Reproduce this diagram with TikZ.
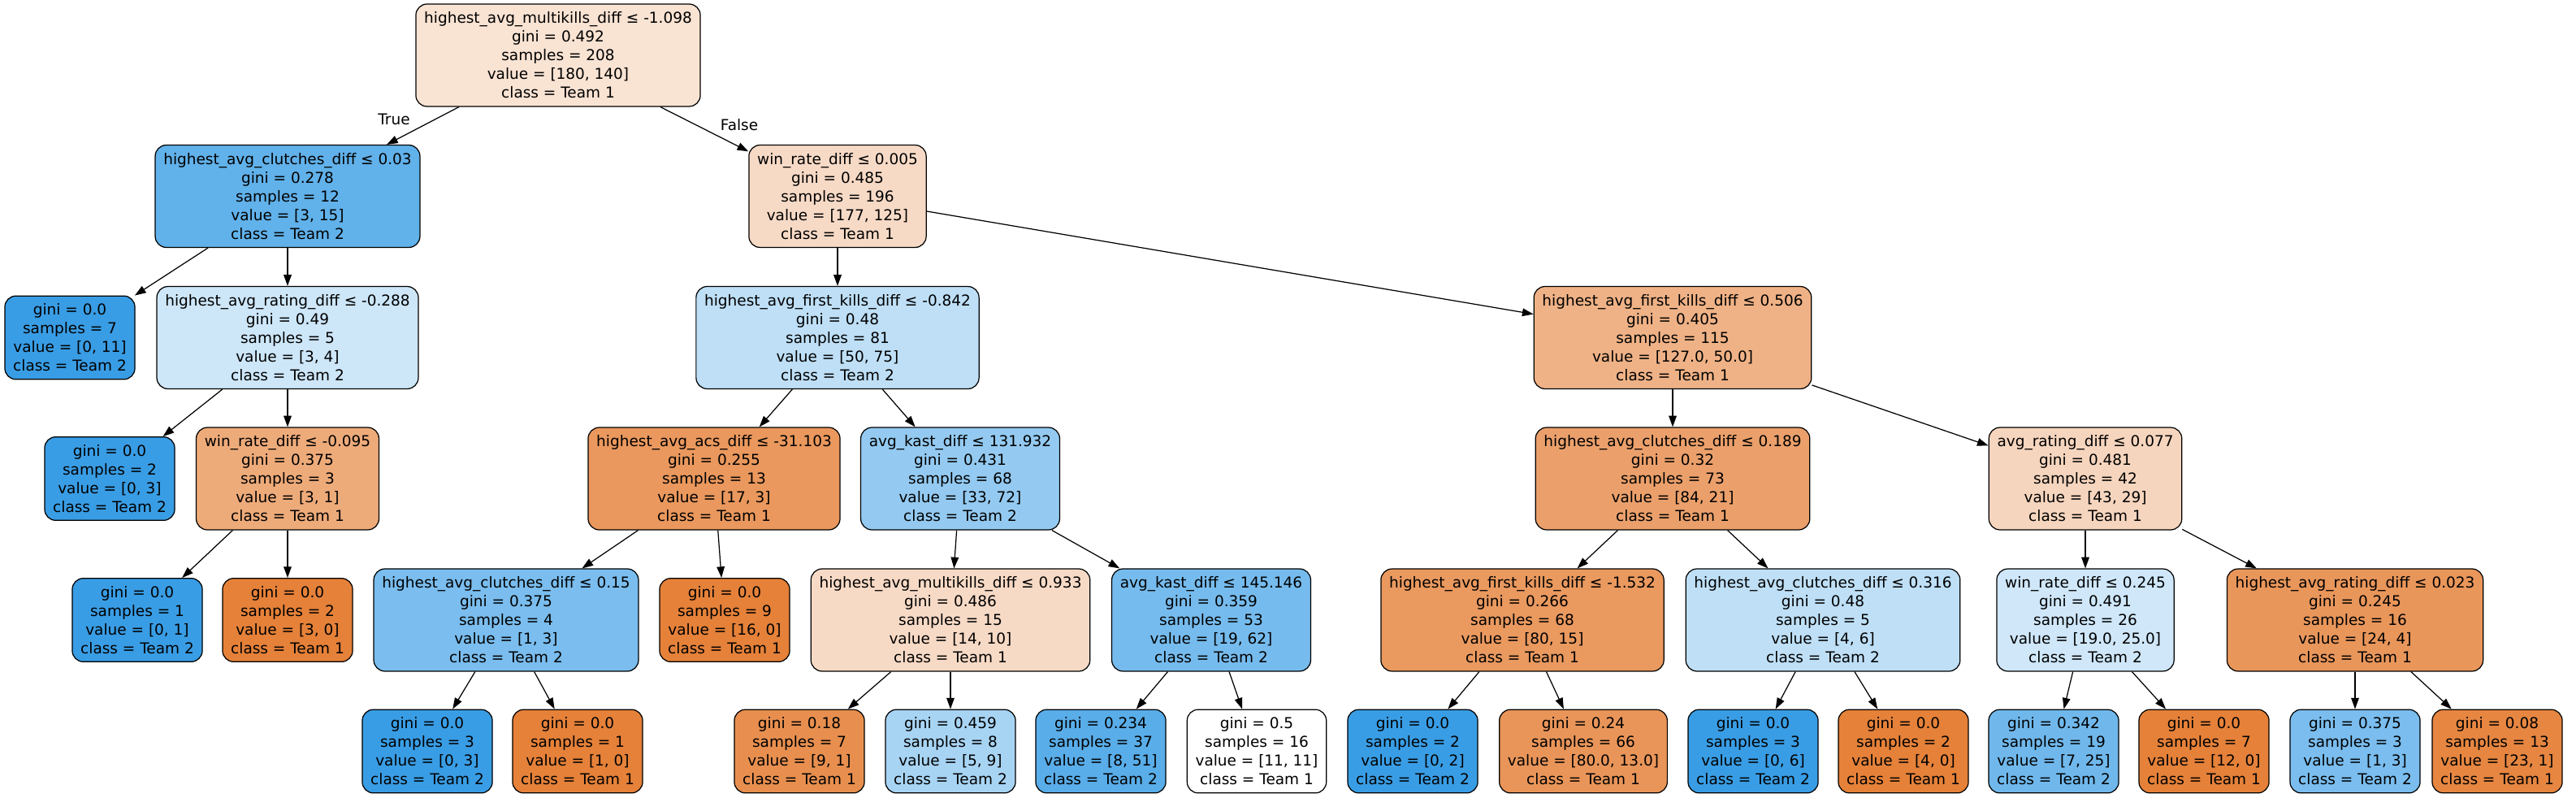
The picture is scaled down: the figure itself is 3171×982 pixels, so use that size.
\documentclass[tikz,border=0pt]{standalone}
\usepackage{fontspec}
\setmainfont{DejaVu Sans}
\usepackage{tikz}
\usetikzlibrary{arrows.meta}

\definecolor{teamone}{RGB}{229,129,57}
\definecolor{teamtwo}{RGB}{57,157,229}

\begin{document}
\begin{tikzpicture}[x=0.7305pt, y=-0.7305pt, >={Triangle[length=10pt,width=7pt]},
    treebox/.style={draw, rectangle, rounded corners=10pt, align=center, inner xsep=7.5pt, inner ysep=4pt, line width=0.9pt, font=\fontsize{13.5}{16.8}\selectfont},
    splitbox/.style={treebox, minimum height=92pt},
    leafbox/.style={treebox, minimum height=75pt},
    treeedge/.style={->, line width=0.9pt}]
    \useasboundingbox (0,0) rectangle (3171,982);

    % root and first split
    \node[splitbox, fill=teamone!22!white] (root) at (687,68) {highest\_avg\_multikills\_diff ≤ -1.098\\gini = 0.492\\samples = 208\\value = [180, 140]\\class = Team 1};
    \node[splitbox, fill=teamtwo!80!white] (clutchA) at (354,241.5) {highest\_avg\_clutches\_diff ≤ 0.03\\gini = 0.278\\samples = 12\\value = [3, 15]\\class = Team 2};
    \node[splitbox, fill=teamone!29!white] (winA) at (1031,241.5) {win\_rate\_diff ≤ 0.005\\gini = 0.485\\samples = 196\\value = [177, 125]\\class = Team 1};

    % second level
    \node[leafbox, fill=teamtwo] (leafA) at (86,415.5) {gini = 0.0\\samples = 7\\value = [0, 11]\\class = Team 2};
    \node[splitbox, fill=teamtwo!25!white] (ratingA) at (354,415.5) {highest\_avg\_rating\_diff ≤ -0.288\\gini = 0.49\\samples = 5\\value = [3, 4]\\class = Team 2};
    \node[splitbox, fill=teamtwo!33!white] (firstA) at (1031,415.5) {highest\_avg\_first\_kills\_diff ≤ -0.842\\gini = 0.48\\samples = 81\\value = [50, 75]\\class = Team 2};
    \node[splitbox, fill=teamone!61!white] (firstB) at (2059,415.5) {highest\_avg\_first\_kills\_diff ≤ 0.506\\gini = 0.405\\samples = 115\\value = [127.0, 50.0]\\class = Team 1};

    % third level
    \node[leafbox, fill=teamtwo] (leafB) at (135,589) {gini = 0.0\\samples = 2\\value = [0, 3]\\class = Team 2};
    \node[splitbox, fill=teamone!67!white] (winB) at (354,589) {win\_rate\_diff ≤ -0.095\\gini = 0.375\\samples = 3\\value = [3, 1]\\class = Team 1};
    \node[splitbox, fill=teamone!82!white] (acsA) at (879,589) {highest\_avg\_acs\_diff ≤ -31.103\\gini = 0.255\\samples = 13\\value = [17, 3]\\class = Team 1};
    \node[splitbox, fill=teamtwo!54!white] (kastA) at (1182,589) {avg\_kast\_diff ≤ 131.932\\gini = 0.431\\samples = 68\\value = [33, 72]\\class = Team 2};
    \node[splitbox, fill=teamone!75!white] (clutchB) at (2059,589) {highest\_avg\_clutches\_diff ≤ 0.189\\gini = 0.32\\samples = 73\\value = [84, 21]\\class = Team 1};
    \node[splitbox, fill=teamone!33!white] (ratingB) at (2567,589) {avg\_rating\_diff ≤ 0.077\\gini = 0.481\\samples = 42\\value = [43, 29]\\class = Team 1};

    % fourth level
    \node[leafbox, fill=teamtwo] (leafC) at (169,763) {gini = 0.0\\samples = 1\\value = [0, 1]\\class = Team 2};
    \node[leafbox, fill=teamone] (leafD) at (354,763) {gini = 0.0\\samples = 2\\value = [3, 0]\\class = Team 1};
    \node[splitbox, fill=teamtwo!67!white] (clutchC) at (623,763) {highest\_avg\_clutches\_diff ≤ 0.15\\gini = 0.375\\samples = 4\\value = [1, 3]\\class = Team 2};
    \node[leafbox, fill=teamone] (leafE) at (892,763) {gini = 0.0\\samples = 9\\value = [16, 0]\\class = Team 1};
    \node[splitbox, fill=teamone!29!white] (multiA) at (1170,763) {highest\_avg\_multikills\_diff ≤ 0.933\\gini = 0.486\\samples = 15\\value = [14, 10]\\class = Team 1};
    \node[splitbox, fill=teamtwo!69!white] (kastB) at (1491,763) {avg\_kast\_diff ≤ 145.146\\gini = 0.359\\samples = 53\\value = [19, 62]\\class = Team 2};
    \node[splitbox, fill=teamone!81!white] (firstC) at (1874,763) {highest\_avg\_first\_kills\_diff ≤ -1.532\\gini = 0.266\\samples = 68\\value = [80, 15]\\class = Team 1};
    \node[splitbox, fill=teamtwo!33!white] (clutchD) at (2244,763) {highest\_avg\_clutches\_diff ≤ 0.316\\gini = 0.48\\samples = 5\\value = [4, 6]\\class = Team 2};
    \node[splitbox, fill=teamtwo!24!white] (winC) at (2567,763) {win\_rate\_diff ≤ 0.245\\gini = 0.491\\samples = 26\\value = [19.0, 25.0]\\class = Team 2};
    \node[splitbox, fill=teamone!83!white] (ratingC) at (2899,763) {highest\_avg\_rating\_diff ≤ 0.023\\gini = 0.245\\samples = 16\\value = [24, 4]\\class = Team 1};

    % bottom leaves
    \node[leafbox, fill=teamtwo] (leafF) at (526,924.5) {gini = 0.0\\samples = 3\\value = [0, 3]\\class = Team 2};
    \node[leafbox, fill=teamone] (leafG) at (711,924.5) {gini = 0.0\\samples = 1\\value = [1, 0]\\class = Team 1};
    \node[leafbox, fill=teamone!89!white] (leafH) at (984,924.5) {gini = 0.18\\samples = 7\\value = [9, 1]\\class = Team 1};
    \node[leafbox, fill=teamtwo!44!white] (leafI) at (1170,924.5) {gini = 0.459\\samples = 8\\value = [5, 9]\\class = Team 2};
    \node[leafbox, fill=teamtwo!84!white] (leafJ) at (1355,924.5) {gini = 0.234\\samples = 37\\value = [8, 51]\\class = Team 2};
    \node[leafbox, fill=white] (leafK) at (1547,924.5) {gini = 0.5\\samples = 16\\value = [11, 11]\\class = Team 1};
    \node[leafbox, fill=teamtwo] (leafL) at (1739,924.5) {gini = 0.0\\samples = 2\\value = [0, 2]\\class = Team 2};
    \node[leafbox, fill=teamone!84!white] (leafM) at (1949,924.5) {gini = 0.24\\samples = 66\\value = [80.0, 13.0]\\class = Team 1};
    \node[leafbox, fill=teamtwo] (leafN) at (2158,924.5) {gini = 0.0\\samples = 3\\value = [0, 6]\\class = Team 2};
    \node[leafbox, fill=teamone] (leafO) at (2343,924.5) {gini = 0.0\\samples = 2\\value = [4, 0]\\class = Team 1};
    \node[leafbox, fill=teamtwo!72!white] (leafP) at (2528,924.5) {gini = 0.342\\samples = 19\\value = [7, 25]\\class = Team 2};
    \node[leafbox, fill=teamone] (leafQ) at (2713,924.5) {gini = 0.0\\samples = 7\\value = [12, 0]\\class = Team 1};
    \node[leafbox, fill=teamtwo!67!white] (leafR) at (2899,924.5) {gini = 0.375\\samples = 3\\value = [1, 3]\\class = Team 2};
    \node[leafbox, fill=teamone!96!white] (leafS) at (3074,924.5) {gini = 0.08\\samples = 13\\value = [23, 1]\\class = Team 1};

    % the arrows and labels
    \draw[treeedge] (root) -- (clutchA);
    \draw[treeedge] (root) -- (winA);
    \draw[treeedge] (clutchA) -- (leafA);
    \draw[treeedge] (clutchA) -- (ratingA);
    \draw[treeedge] (winA) -- (firstA);
    \draw[treeedge] (winA) -- (firstB);
    \draw[treeedge] (ratingA) -- (leafB);
    \draw[treeedge] (ratingA) -- (winB);
    \draw[treeedge] (firstA) -- (acsA);
    \draw[treeedge] (firstA) -- (kastA);
    \draw[treeedge] (firstB) -- (clutchB);
    \draw[treeedge] (firstB) -- (ratingB);
    \draw[treeedge] (winB) -- (leafC);
    \draw[treeedge] (winB) -- (leafD);
    \draw[treeedge] (acsA) -- (clutchC);
    \draw[treeedge] (acsA) -- (leafE);
    \draw[treeedge] (kastA) -- (multiA);
    \draw[treeedge] (kastA) -- (kastB);
    \draw[treeedge] (clutchB) -- (firstC);
    \draw[treeedge] (clutchB) -- (clutchD);
    \draw[treeedge] (ratingB) -- (winC);
    \draw[treeedge] (ratingB) -- (ratingC);
    \draw[treeedge] (clutchC) -- (leafF);
    \draw[treeedge] (clutchC) -- (leafG);
    \draw[treeedge] (multiA) -- (leafH);
    \draw[treeedge] (multiA) -- (leafI);
    \draw[treeedge] (kastB) -- (leafJ);
    \draw[treeedge] (kastB) -- (leafK);
    \draw[treeedge] (firstC) -- (leafL);
    \draw[treeedge] (firstC) -- (leafM);
    \draw[treeedge] (clutchD) -- (leafN);
    \draw[treeedge] (clutchD) -- (leafO);
    \draw[treeedge] (winC) -- (leafP);
    \draw[treeedge] (winC) -- (leafQ);
    \draw[treeedge] (ratingC) -- (leafR);
    \draw[treeedge] (ratingC) -- (leafS);

    \node[font=\fontsize{13.5}{16.8}\selectfont] (truelabel) at (485,147) {True};
    \node[font=\fontsize{13.5}{16.8}\selectfont] (falselabel) at (910,154) {False};
\end{tikzpicture}
\end{document}
